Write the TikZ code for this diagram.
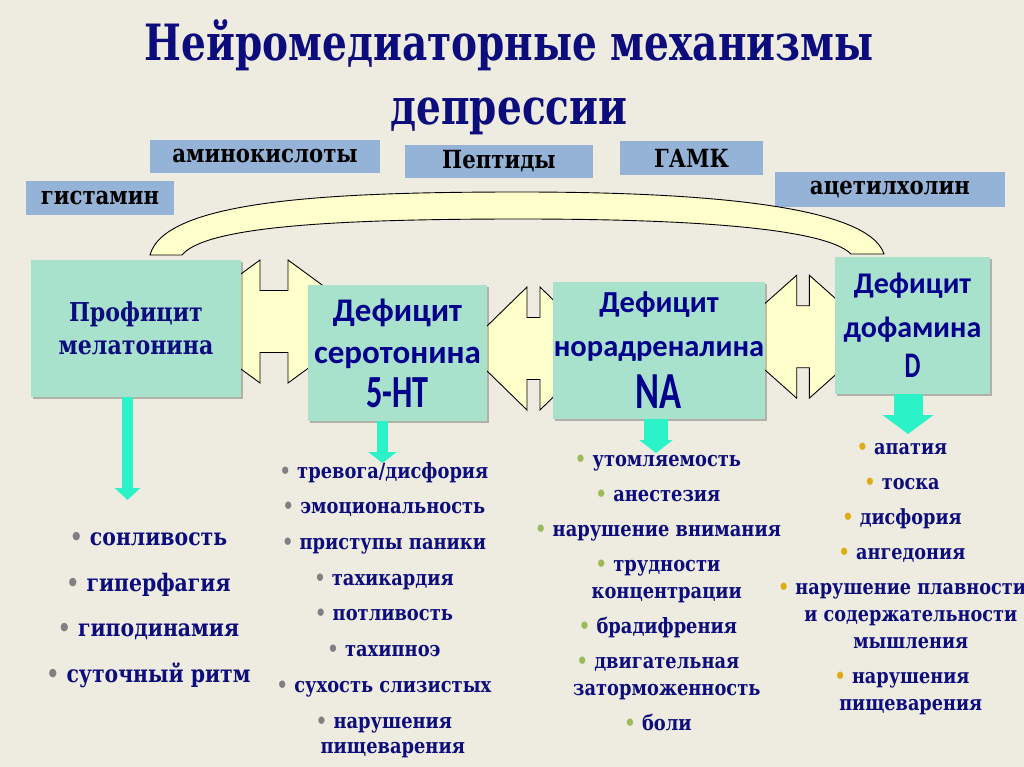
\documentclass[tikz,border=0pt]{standalone}
\usepackage{fontspec}
\setmainfont{DejaVu Serif}
\newfontfamily\serf[FakeStretch=0.85]{DejaVu Serif}
\newfontfamily\ttlf[FakeStretch=0.78]{DejaVu Serif}
\newfontfamily\calf{Carlito}
\newfontfamily\narf[FakeStretch=0.7]{Carlito}
\usetikzlibrary{arrows.meta,shadows}

\definecolor{bgcol}{RGB}{238,236,225}
\definecolor{navy}{RGB}{12,12,125}
\definecolor{boxblue}{RGB}{0,0,140}
\definecolor{labfill}{RGB}{149,179,215}
\definecolor{mint}{RGB}{168,226,204}
\definecolor{paleyel}{RGB}{255,255,204}
\definecolor{turq}{RGB}{44,242,200}
\definecolor{dotgrey}{RGB}{128,128,128}
\definecolor{dotgreen}{RGB}{155,187,89}
\definecolor{dotgold}{RGB}{222,172,20}

\tikzset{
  lab/.style={fill=labfill,inner sep=0pt,text=black,font=\serf\bfseries\fontsize{25}{30}\selectfont},
  mbox/.style={fill=mint,inner sep=0pt,align=center,text=boxblue,
    drop shadow={shadow xshift=2pt,shadow yshift=-2pt,fill=black,opacity=.25}},
  darr/.style={fill=paleyel,draw=black,line width=0.9pt,line join=miter},
  downarr/.style={draw=turq,line width=#1},
  sym/.style={text=navy,align=center,inner sep=0pt,anchor=base},
}

% bullet item, with a hidden bullet for continuation lines
\newcommand\itm[2]{\textcolor{#1}{•}~#2}
\newcommand\cont[1]{\phantom{•~}#1}
% double block arrow: left base x, right base x, centre y, head length
\newcommand\dblarr[4]{%
  \filldraw[darr] (#1-#4,#3) -- (#1,#3-61.5) -- (#1,#3-31) -- (#2,#3-31) -- (#2,#3-61.5)
    -- (#2+#4,#3) -- (#2,#3+61.5) -- (#2,#3+31) -- (#1,#3+31) -- (#1,#3+61.5) -- cycle;}

\begin{document}
\begin{tikzpicture}[x=1pt,y=-1pt]
\useasboundingbox (0,0) rectangle (1024,767);
\fill[bgcol] (0,0) rectangle (1024,767);

% title (anchored at the baseline of its last line)
\node[sym,font=\ttlf\bfseries\fontsize{50}{64}\selectfont] (title) at (509,125)
  {Нейромедиаторные механизмы\\депрессии};

% transmitter labels
\node[lab,minimum width=230pt,minimum height=33pt] (amino) at (265,156.5) {аминокислоты};
\node[lab,minimum width=188pt,minimum height=33pt] (pept) at (499,161.5) {Пептиды};
\node[lab,minimum width=143pt,minimum height=34pt] (gaba) at (691.5,158) {ГАМК};
\node[lab,minimum width=148pt,minimum height=34pt] (hist) at (100,198) {гистамин};
\node[lab,minimum width=230pt,minimum height=35pt] (ach) at (890,189.5) {ацетилхолин};

% arc and double arrows
\filldraw[darr] (150,255) .. controls (165,200) and (330,192) .. (520,192)
  .. controls (700,192) and (868,205) .. (884,254) -- (851,254)
  .. controls (825,228) and (690,219) .. (520,219)
  .. controls (330,219) and (205,227) .. (182,255) -- cycle;
\dblarr{260}{288}{321.5}{84}
\dblarr{527}{540}{348.5}{63}
\dblarr{796.7}{809.3}{336.7}{69}

% boxes
\node[mbox,minimum width=210pt,minimum height=137pt,text=navy,
  font=\serf\bfseries\fontsize{26}{33}\selectfont] (mel) at (136,328.5)
  {Профицит\\мелатонина};
\node[mbox,minimum width=179pt,minimum height=136pt,
  font=\calf\bfseries\fontsize{33}{42}\selectfont] (ser) at (397.5,353)
  {Дефицит\\серотонина\\[2pt]{\narf\fontsize{46}{46}\selectfont 5-HT}};
\node[mbox,minimum width=212pt,minimum height=137pt,
  font=\calf\bfseries\fontsize{30.5}{44}\selectfont] (nor) at (659,350.5)
  {Дефицит\\норадреналина\\[8pt]{\narf\fontsize{52}{52}\selectfont NA}};
\node[mbox,minimum width=155pt,minimum height=137pt,
  font=\calf\bfseries\fontsize{30}{44}\selectfont] (dof) at (912.5,325.5)
  {Дефицит\\дофамина\\[-4pt]{\narf\fontsize{36}{36}\selectfont D}};

% symptom lists (anchored at the baseline of the last line)
\node[sym,font=\serf\bfseries\fontsize{24}{30}\selectfont] (sym1) at (148.5,682)
  {\itm{dotgrey}{сонливость}\\[15.5pt]
   \itm{dotgrey}{гиперфагия}\\[15.5pt]
   \itm{dotgrey}{гиподинамия}\\[15.5pt]
   \itm{dotgrey}{суточный ритм}};
\node[sym,font=\serf\bfseries\fontsize{21}{25}\selectfont] (sym2) at (384,753)
  {\itm{dotgrey}{тревога/дисфория}\\[10.7pt]
   \itm{dotgrey}{эмоциональность}\\[10.7pt]
   \itm{dotgrey}{приступы паники}\\[10.7pt]
   \itm{dotgrey}{тахикардия}\\[10.7pt]
   \itm{dotgrey}{потливость}\\[10.7pt]
   \itm{dotgrey}{тахипноэ}\\[10.7pt]
   \itm{dotgrey}{сухость слизистых}\\[10.7pt]
   \itm{dotgrey}{нарушения}\\
   \cont{пищеварения}};
\node[sym,font=\serf\bfseries\fontsize{21}{27}\selectfont] (sym3) at (658,730)
  {\itm{dotgreen}{утомляемость}\\[8pt]
   \itm{dotgreen}{анестезия}\\[8pt]
   \itm{dotgreen}{нарушение внимания}\\[8pt]
   \itm{dotgreen}{трудности}\\
   \cont{концентрации}\\[8pt]
   \itm{dotgreen}{брадифрения}\\[8pt]
   \itm{dotgreen}{двигательная}\\
   \cont{заторможенность}\\[8pt]
   \itm{dotgreen}{боли}};
\node[sym,font=\serf\bfseries\fontsize{20.8}{27}\selectfont] (sym4) at (902,710)
  {\itm{dotgold}{апатия}\\[8pt]
   \itm{dotgold}{тоска}\\[8pt]
   \itm{dotgold}{дисфория}\\[8pt]
   \itm{dotgold}{ангедония}\\[8pt]
   \itm{dotgold}{нарушение плавности}\\
   \cont{и содержательности}\\
   \cont{мышления}\\[8pt]
   \itm{dotgold}{нарушения}\\
   \cont{пищеварения}};

% arrows down to the symptoms
\coordinate (t1) at (127.5,500);
\coordinate (t2) at (382.5,463);
\coordinate (t3) at (656,453);
\coordinate (t4) at (908,434);
\draw[downarr=11.7pt,-{Triangle[width=25pt,length=12pt]}] (mel.south -| t1) -- (t1);
\draw[downarr=11.6pt,-{Triangle[width=28pt,length=11pt]}] (ser.south -| t2) -- (t2);
\draw[downarr=24pt,-{Triangle[width=33pt,length=13pt]}] (nor.south -| t3) -- (t3);
\draw[downarr=29pt,-{Triangle[width=50pt,length=19pt]}] (dof.south -| t4) -- (t4);
\end{tikzpicture}
\end{document}
